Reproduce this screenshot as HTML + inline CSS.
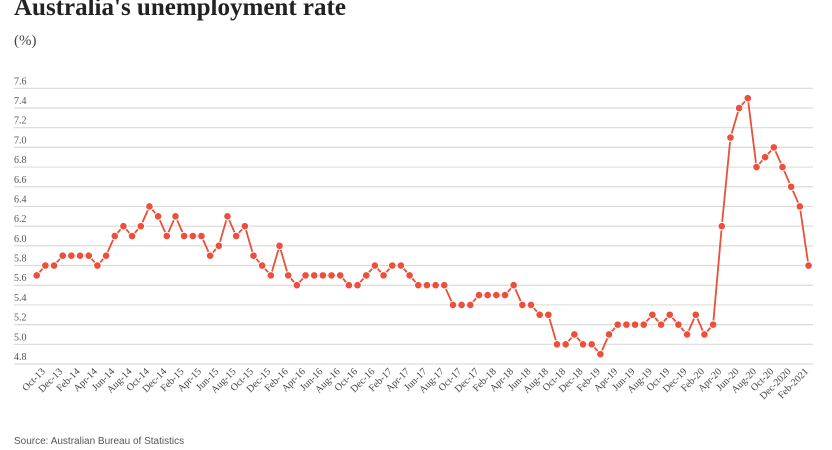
<!DOCTYPE html>
<html><head><meta charset="utf-8"><style>
body{margin:0;background:#fff;width:832px;height:450px;overflow:hidden;}
svg{display:block}
</style></head><body>
<svg id="chart" width="832" height="450">
<text x="14" y="15" font-family="Liberation Serif, serif" font-weight="bold" font-size="25" fill="#222">Australia's unemployment rate</text>
<text x="14" y="45" font-family="Liberation Serif, serif" font-size="15" fill="#444">(%)</text>
<g id="grid"></g><g id="xlabels"></g><g id="series"></g>
<text x="14" y="444" font-family="Liberation Sans, sans-serif" font-size="10" fill="#555">Source: Australian Bureau of Statistics</text>
</svg>
<script>
const yTicks=[4.8,5.0,5.2,5.4,5.6,5.8,6.0,6.2,6.4,6.6,6.8,7.0,7.2,7.4,7.6];
const xLabels=["Oct-13","Dec-13","Feb-14","Apr-14","Jun-14","Aug-14","Oct-14","Dec-14","Feb-15","Apr-15","Jun-15","Aug-15","Oct-15","Dec-15","Feb-16","Apr-16","Jun-16","Aug-16","Oct-16","Dec-16","Feb-17","Apr-17","Jun-17","Aug-17","Oct-17","Dec-17","Feb-18","Apr-18","Jun-18","Aug-18","Oct-18","Dec-18","Feb-19","Apr-19","Jun-19","Aug-19","Oct-19","Dec-19","Feb-20","Apr-20","Jun-20","Aug-20","Oct-20","Dec-2020","Feb-2021"];
const values=[5.7,5.8,5.8,5.9,5.9,5.9,5.9,5.8,5.9,6.1,6.2,6.1,6.2,6.4,6.3,6.1,6.3,6.1,6.1,6.1,5.9,6.0,6.3,6.1,6.2,5.9,5.8,5.7,6.0,5.7,5.6,5.7,5.7,5.7,5.7,5.7,5.6,5.6,5.7,5.8,5.7,5.8,5.8,5.7,5.6,
5.6,5.6,5.6,5.4,5.4,5.4,5.5,5.5,5.5,5.5,5.6,5.4,5.4,5.3,5.3,5.0,5.0,5.1,5.0,5.0,4.9,5.1,5.2,5.2,5.2,5.2,5.3,5.2,5.3,5.2,5.1,5.3,5.1,5.2,6.2,7.1,7.4,7.5,6.8,6.9,7.0,6.8,6.6,6.4,5.8];
const NS="http://www.w3.org/2000/svg";
const x0=36.7,x1=808.5,yTop=88.3,yBot=364,vMin=4.8,vMax=7.6;
const xs=i=>x0+(x1-x0)*i/(values.length-1);
const ys=v=>yBot-(v-vMin)/(vMax-vMin)*(yBot-yTop);
const grid=document.getElementById('grid');
yTicks.forEach(t=>{
 const l=document.createElementNS(NS,'line');
 
 
 l.setAttribute('x1',14);l.setAttribute('x2',813);l.setAttribute('y1',ys(t));l.setAttribute('y2',ys(t));
 l.setAttribute('stroke','#dcdcd6');l.setAttribute('stroke-width','1.2');grid.appendChild(l);
 const tx=document.createElementNS(NS,'text');
 
 
 tx.setAttribute('x',14);tx.setAttribute('y',ys(t)-4);tx.setAttribute('font-size','10');
 tx.setAttribute('font-family','Liberation Serif, serif');tx.setAttribute('fill','#555');
 tx.textContent=t.toFixed(1);grid.appendChild(tx);
});
const xl=document.getElementById('xlabels');
xLabels.forEach((s,k)=>{
 const i=k*2;const px=xs(i)+9,py=372;
 const tx=document.createElementNS(NS,'text');
 
 
 tx.setAttribute('x',px);tx.setAttribute('y',py);tx.setAttribute('text-anchor','end');
 tx.setAttribute('font-size','10');tx.setAttribute('font-family','Liberation Serif, serif');tx.setAttribute('fill','#444');
 tx.setAttribute('transform','rotate(-45 '+px+' '+py+')');
 tx.textContent=s;xl.appendChild(tx);
});
const g=document.getElementById('series');
const p=document.createElementNS(NS,'polyline');


p.setAttribute('points',values.map((v,i)=>xs(i)+','+ys(v)).join(' '));
p.setAttribute('fill','none');p.setAttribute('stroke','#e8503a');p.setAttribute('stroke-width','1.8');
g.appendChild(p);
values.forEach((v,i)=>{
 const c=document.createElementNS(NS,'circle');
 
 
 c.setAttribute('cx',xs(i));c.setAttribute('cy',ys(v));c.setAttribute('r','3.8');
 c.setAttribute('fill','#ec4f3b');c.setAttribute('stroke','#fff');c.setAttribute('stroke-width','1');
 g.appendChild(c);
});
</script>
</body></html>
